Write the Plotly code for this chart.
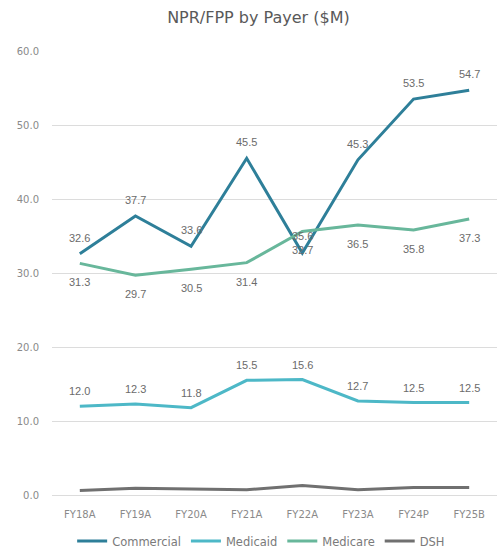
import plotly.graph_objects as go

# Fiscal years on the category axis
years = ["FY18A", "FY19A", "FY20A", "FY21A", "FY22A", "FY23A", "FY24P", "FY25B"]

# Net patient revenue per payer ($M)
commercial = [32.6, 37.7, 33.6, 45.5, 32.7, 45.3, 53.5, 54.7]
medicaid = [12.0, 12.3, 11.8, 15.5, 15.6, 12.7, 12.5, 12.5]
medicare = [31.3, 29.7, 30.5, 31.4, 35.6, 36.5, 35.8, 37.3]
dsh = [0.6, 0.9, 0.8, 0.7, 1.3, 0.7, 1.0, 1.0]

FONT = "DejaVu Sans"
LABEL_FONT = "Liberation Sans"
LABEL_COLOR = "#6b6b6b"

series = [
    ("Commercial", commercial, "#2E7F99"),
    ("Medicaid", medicaid, "#4DB8C7"),
    ("Medicare", medicare, "#68B79B"),
    ("DSH", dsh, "#707070"),
]

fig = go.Figure()
for name, values, color in series:
    fig.add_trace(go.Scatter(
        x=years, y=values, name=name, mode="lines",
        line=dict(color=color, width=3),
    ))

# Value labels: commercial & medicaid above the line, medicare below
label_shift = {"Commercial": 16, "Medicaid": 15, "Medicare": -19}
annotations = []
for name, values, _ in series:
    if name not in label_shift:
        continue
    for i, (yr, v) in enumerate(zip(years, values)):
        shift = label_shift[name]
        if yr == "FY22A" and name == "Commercial":
            shift = 3
        if yr == "FY22A" and name == "Medicare":
            shift = -4
        annotations.append(dict(
            x=yr, y=v, xref="x", yref="y", text=f"{v:.1f}", showarrow=False,
            yshift=shift, font=dict(size=11, color=LABEL_COLOR, family=LABEL_FONT),
        ))

fig.update_layout(
    width=497, height=550,
    margin=dict(l=52, r=0, t=51, b=55, autoexpand=False),
    paper_bgcolor="white", plot_bgcolor="white",
    font=dict(family=FONT, color="#8a8a8a", size=10),
    title=dict(text="NPR/FPP by Payer ($M)", x=0.52, xanchor="center",
               y=0.968, yanchor="middle",
               font=dict(size=16, color="#595959", family=FONT)),
    annotations=annotations,
    showlegend=True,
    legend=dict(orientation="h", x=0.47, xanchor="center",
                yref="container", y=9 / 550, yanchor="middle",
                font=dict(size=11.5, color="#7a7a7a", family=FONT),
                itemwidth=30, traceorder="normal"),
    xaxis=dict(type="category", range=[-0.5, 7.5], showgrid=False,
               showline=False, ticks="", ticklabelstandoff=12,
               tickfont=dict(size=10, color="#8a8a8a")),
    yaxis=dict(range=[0, 60], dtick=10, tickformat=".1f",
               showgrid=True, gridcolor="#dcdcdc", gridwidth=1,
               zeroline=True, zerolinecolor="#dcdcdc", zerolinewidth=1,
               ticks="", ticklabelstandoff=12,
               tickfont=dict(size=10, color="#8a8a8a")),
)

fig.write_html("out.html")
